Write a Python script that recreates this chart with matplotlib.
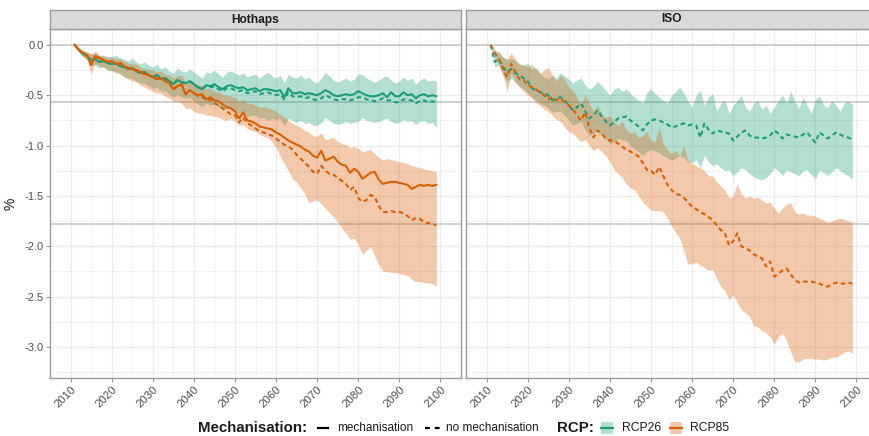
import numpy as np
import matplotlib
matplotlib.use("Agg")
import matplotlib.pyplot as plt
from matplotlib.lines import Line2D
from matplotlib.patches import Rectangle

plt.rcParams['font.family'] = ['Liberation Sans', 'DejaVu Sans']

years = np.arange(2011, 2100)
panels = ["Hothaps", "ISO"]
rcp_names = ["RCP26", "RCP85"]
rcp_colors = {"RCP26": "#1B9E77", "RCP85": "#D95F02"}
mech_labels = ["mechanisation", "no mechanisation"]
hlines = [0.0, -0.565, -1.78]

# Hothaps, RCP26
h26_mech = [0.00, -0.05, -0.09, -0.11, -0.15, -0.14, -0.17, -0.16, -0.18, -0.19,
            -0.18, -0.21, -0.22, -0.24, -0.23, -0.26, -0.28, -0.27, -0.30, -0.32,
            -0.30, -0.34, -0.33, -0.36, -0.39, -0.35, -0.37, -0.38, -0.36, -0.39,
            -0.42, -0.44, -0.40, -0.41, -0.39, -0.42, -0.44, -0.41, -0.40, -0.42,
            -0.43, -0.42, -0.45, -0.44, -0.43, -0.46, -0.44, -0.44, -0.45, -0.46,
            -0.45, -0.52, -0.43, -0.48, -0.48, -0.47, -0.49, -0.48, -0.49, -0.50,
            -0.48, -0.45, -0.47, -0.50, -0.51, -0.50, -0.49, -0.50, -0.49, -0.46,
            -0.48, -0.50, -0.51, -0.51, -0.50, -0.48, -0.52, -0.47, -0.51, -0.51,
            -0.47, -0.50, -0.49, -0.53, -0.50, -0.49, -0.51, -0.50, -0.51]
h26_nomech = [0.00, -0.05, -0.09, -0.11, -0.15, -0.14, -0.17, -0.16, -0.18, -0.19,
              -0.18, -0.21, -0.22, -0.24, -0.23, -0.26, -0.28, -0.27, -0.30, -0.32,
              -0.30, -0.34, -0.33, -0.36, -0.39, -0.35, -0.37, -0.38, -0.36, -0.39,
              -0.42, -0.44, -0.41, -0.42, -0.41, -0.44, -0.46, -0.43, -0.43, -0.45,
              -0.46, -0.45, -0.48, -0.47, -0.46, -0.49, -0.48, -0.47, -0.49, -0.50,
              -0.49, -0.54, -0.47, -0.51, -0.52, -0.51, -0.53, -0.52, -0.54, -0.55,
              -0.53, -0.50, -0.52, -0.54, -0.55, -0.54, -0.54, -0.55, -0.54, -0.52,
              -0.52, -0.54, -0.55, -0.56, -0.55, -0.53, -0.55, -0.55, -0.57, -0.57,
              -0.54, -0.55, -0.55, -0.58, -0.56, -0.55, -0.57, -0.56, -0.57]
h26_hi = [0.00, -0.02, -0.05, -0.07, -0.09, -0.08, -0.11, -0.10, -0.12, -0.12,
          -0.10, -0.13, -0.14, -0.16, -0.13, -0.17, -0.19, -0.17, -0.20, -0.22,
          -0.19, -0.24, -0.22, -0.26, -0.28, -0.23, -0.26, -0.27, -0.24, -0.27,
          -0.30, -0.33, -0.27, -0.28, -0.25, -0.29, -0.32, -0.27, -0.26, -0.28,
          -0.30, -0.28, -0.32, -0.30, -0.29, -0.33, -0.30, -0.27, -0.31, -0.33,
          -0.30, -0.38, -0.29, -0.32, -0.33, -0.30, -0.34, -0.32, -0.36, -0.38,
          -0.33, -0.27, -0.31, -0.35, -0.37, -0.35, -0.33, -0.36, -0.34, -0.29,
          -0.29, -0.33, -0.35, -0.37, -0.35, -0.32, -0.31, -0.35, -0.38, -0.36,
          -0.32, -0.35, -0.33, -0.39, -0.35, -0.33, -0.36, -0.35, -0.36]
h26_lo = [0.00, -0.07, -0.12, -0.15, -0.20, -0.20, -0.23, -0.22, -0.25, -0.26,
          -0.26, -0.29, -0.31, -0.33, -0.33, -0.36, -0.38, -0.38, -0.41, -0.43,
          -0.42, -0.46, -0.46, -0.49, -0.52, -0.49, -0.52, -0.53, -0.52, -0.56,
          -0.59, -0.61, -0.58, -0.60, -0.59, -0.62, -0.65, -0.63, -0.63, -0.66,
          -0.68, -0.67, -0.71, -0.70, -0.70, -0.73, -0.72, -0.75, -0.73, -0.74,
          -0.73, -0.80, -0.73, -0.75, -0.77, -0.75, -0.78, -0.77, -0.80, -0.80,
          -0.77, -0.72, -0.75, -0.78, -0.79, -0.78, -0.76, -0.78, -0.77, -0.76,
          -0.72, -0.75, -0.76, -0.77, -0.76, -0.74, -0.73, -0.76, -0.78, -0.77,
          -0.74, -0.76, -0.75, -0.79, -0.76, -0.75, -0.78, -0.77, -0.82]

# Hothaps, RCP85
h85_mech = [0.00, -0.05, -0.08, -0.10, -0.20, -0.11, -0.13, -0.15, -0.17, -0.16,
            -0.19, -0.18, -0.21, -0.23, -0.24, -0.25, -0.27, -0.29, -0.30, -0.32,
            -0.34, -0.33, -0.36, -0.38, -0.44, -0.41, -0.39, -0.49, -0.45, -0.48,
            -0.50, -0.49, -0.54, -0.52, -0.55, -0.56, -0.59, -0.62, -0.63, -0.66,
            -0.73, -0.67, -0.75, -0.76, -0.78, -0.81, -0.82, -0.83, -0.84, -0.87,
            -0.89, -0.92, -0.95, -0.97, -0.99, -1.01, -1.04, -1.06, -1.10, -1.12,
            -1.05, -1.15, -1.13, -1.11, -1.16, -1.19, -1.20, -1.27, -1.23, -1.26,
            -1.33, -1.30, -1.27, -1.26, -1.34, -1.38, -1.37, -1.36, -1.36, -1.37,
            -1.38, -1.39, -1.43, -1.41, -1.39, -1.40, -1.39, -1.40, -1.39]
h85_nomech = [0.00, -0.05, -0.08, -0.10, -0.20, -0.11, -0.13, -0.15, -0.17, -0.16,
              -0.19, -0.18, -0.21, -0.23, -0.24, -0.25, -0.27, -0.29, -0.30, -0.32,
              -0.34, -0.33, -0.36, -0.38, -0.44, -0.41, -0.39, -0.49, -0.45, -0.48,
              -0.51, -0.51, -0.55, -0.54, -0.58, -0.60, -0.63, -0.66, -0.69, -0.70,
              -0.77, -0.72, -0.78, -0.80, -0.83, -0.86, -0.87, -0.89, -0.90, -0.93,
              -0.96, -0.99, -1.01, -1.04, -1.09, -1.13, -1.17, -1.21, -1.26, -1.28,
              -1.20, -1.25, -1.28, -1.29, -1.32, -1.35, -1.38, -1.44, -1.41, -1.52,
              -1.56, -1.54, -1.49, -1.51, -1.60, -1.66, -1.66, -1.65, -1.66, -1.66,
              -1.67, -1.70, -1.74, -1.72, -1.73, -1.76, -1.77, -1.78, -1.79]
h85_hi = [0.00, -0.03, -0.06, -0.07, -0.09, -0.06, -0.10, -0.11, -0.12, -0.12,
          -0.14, -0.13, -0.16, -0.18, -0.19, -0.19, -0.22, -0.24, -0.24, -0.25,
          -0.27, -0.26, -0.29, -0.30, -0.33, -0.31, -0.30, -0.37, -0.36, -0.38,
          -0.40, -0.40, -0.44, -0.43, -0.46, -0.47, -0.49, -0.50, -0.51, -0.52,
          -0.56, -0.54, -0.58, -0.58, -0.60, -0.62, -0.61, -0.63, -0.64, -0.66,
          -0.69, -0.72, -0.75, -0.78, -0.80, -0.82, -0.85, -0.87, -0.90, -0.91,
          -0.87, -0.94, -0.93, -0.92, -0.96, -0.98, -0.99, -1.02, -1.01, -1.03,
          -1.06, -1.05, -1.04, -1.08, -1.12, -1.14, -1.13, -1.14, -1.15, -1.16,
          -1.17, -1.18, -1.20, -1.21, -1.22, -1.23, -1.24, -1.25, -1.26]
h85_lo = [0.00, -0.06, -0.11, -0.14, -0.29, -0.18, -0.21, -0.22, -0.25, -0.25,
          -0.28, -0.28, -0.32, -0.34, -0.36, -0.37, -0.40, -0.42, -0.44, -0.46,
          -0.48, -0.48, -0.51, -0.53, -0.56, -0.56, -0.58, -0.63, -0.63, -0.66,
          -0.68, -0.68, -0.70, -0.70, -0.71, -0.72, -0.74, -0.75, -0.73, -0.76,
          -0.80, -0.79, -0.83, -0.85, -0.86, -0.89, -0.91, -0.92, -0.96, -1.02,
          -1.10, -1.18, -1.25, -1.33, -1.36, -1.42, -1.48, -1.57, -1.55, -1.54,
          -1.58, -1.62, -1.67, -1.71, -1.76, -1.82, -1.87, -1.93, -1.92, -1.98,
          -2.08, -2.04, -2.00, -2.10, -2.18, -2.25, -2.25, -2.26, -2.26, -2.27,
          -2.28, -2.29, -2.33, -2.35, -2.35, -2.36, -2.36, -2.37, -2.40]

# ISO, RCP26 (no mechanisation only)
i26_nomech = [0.00, -0.17, -0.14, -0.22, -0.27, -0.24, -0.28, -0.30, -0.33, -0.36,
              -0.43, -0.45, -0.47, -0.48, -0.50, -0.55, -0.53, -0.52, -0.55, -0.60,
              -0.65, -0.62, -0.58, -0.66, -0.73, -0.70, -0.65, -0.71, -0.76, -0.80,
              -0.77, -0.73, -0.72, -0.71, -0.75, -0.78, -0.81, -0.85, -0.79, -0.75,
              -0.74, -0.75, -0.77, -0.79, -0.82, -0.81, -0.79, -0.78, -0.80, -0.79,
              -0.80, -0.92, -0.78, -0.84, -0.88, -0.85, -0.86, -0.87, -0.88, -0.95,
              -0.91, -0.87, -0.85, -0.90, -0.92, -0.92, -0.93, -0.92, -0.90, -0.85,
              -0.88, -0.93, -0.89, -0.90, -0.91, -0.92, -0.89, -0.87, -0.92, -0.97,
              -0.87, -0.90, -0.93, -0.90, -0.87, -0.89, -0.91, -0.92, -0.94]
i26_hi = [0.00, -0.08, -0.06, -0.12, -0.15, -0.13, -0.16, -0.19, -0.20, -0.18,
          -0.24, -0.22, -0.28, -0.32, -0.34, -0.30, -0.33, -0.28, -0.31, -0.34,
          -0.38, -0.35, -0.33, -0.40, -0.44, -0.41, -0.36, -0.40, -0.45, -0.50,
          -0.44, -0.42, -0.46, -0.44, -0.48, -0.52, -0.55, -0.58, -0.47, -0.44,
          -0.48, -0.52, -0.55, -0.58, -0.50, -0.46, -0.42, -0.48, -0.56, -0.62,
          -0.50, -0.45, -0.60, -0.52, -0.48, -0.66, -0.58, -0.55, -0.68, -0.60,
          -0.55, -0.50, -0.62, -0.66, -0.58, -0.55, -0.64, -0.60, -0.68, -0.62,
          -0.55, -0.50, -0.58, -0.46, -0.56, -0.63, -0.52, -0.60, -0.68, -0.54,
          -0.51, -0.60, -0.62, -0.55, -0.60, -0.66, -0.58, -0.56, -0.59]
i26_lo = [0.00, -0.22, -0.20, -0.30, -0.37, -0.33, -0.38, -0.41, -0.44, -0.47,
          -0.52, -0.55, -0.58, -0.60, -0.63, -0.67, -0.66, -0.66, -0.70, -0.75,
          -0.80, -0.78, -0.76, -0.85, -0.90, -0.88, -0.85, -0.90, -0.94, -0.98,
          -0.96, -0.93, -0.94, -0.95, -1.00, -1.03, -1.06, -1.10, -1.06, -1.04,
          -1.05, -1.07, -1.10, -1.12, -1.15, -1.12, -1.10, -1.12, -1.16, -1.17,
          -1.14, -1.22, -1.10, -1.16, -1.20, -1.18, -1.22, -1.25, -1.24, -1.30,
          -1.26, -1.22, -1.24, -1.28, -1.31, -1.33, -1.34, -1.32, -1.28, -1.22,
          -1.25, -1.30, -1.24, -1.26, -1.28, -1.30, -1.25, -1.24, -1.29, -1.33,
          -1.24, -1.27, -1.30, -1.26, -1.22, -1.25, -1.28, -1.30, -1.33]

# ISO, RCP85 (no mechanisation only)
i85_nomech = [0.00, -0.08, -0.14, -0.24, -0.32, -0.19, -0.27, -0.34, -0.35, -0.40,
              -0.42, -0.44, -0.47, -0.50, -0.54, -0.52, -0.55, -0.53, -0.57, -0.60,
              -0.64, -0.70, -0.75, -0.67, -0.82, -0.92, -0.85, -0.88, -0.93, -0.95,
              -0.95, -0.98, -1.01, -1.04, -1.06, -1.08, -1.11, -1.17, -1.24, -1.25,
              -1.29, -1.21, -1.30, -1.39, -1.44, -1.48, -1.49, -1.52, -1.56, -1.61,
              -1.63, -1.66, -1.68, -1.71, -1.74, -1.79, -1.84, -1.87, -1.99, -1.95,
              -1.87, -2.00, -2.02, -2.04, -2.08, -2.10, -2.12, -2.20, -2.15, -2.30,
              -2.27, -2.24, -2.22, -2.28, -2.33, -2.36, -2.35, -2.35, -2.35, -2.36,
              -2.37, -2.39, -2.40, -2.38, -2.36, -2.37, -2.37, -2.36, -2.37]
i85_hi = [0.00, -0.04, -0.09, -0.12, -0.14, -0.08, -0.14, -0.19, -0.20, -0.22,
          -0.19, -0.24, -0.28, -0.25, -0.22, -0.30, -0.36, -0.30, -0.34, -0.42,
          -0.45, -0.52, -0.60, -0.50, -0.58, -0.66, -0.60, -0.68, -0.72, -0.70,
          -0.76, -0.80, -0.76, -0.84, -0.88, -0.86, -0.92, -0.90, -0.86, -0.95,
          -0.96, -0.82, -0.98, -1.04, -1.08, -1.05, -1.10, -1.00, -1.14, -1.18,
          -1.20, -1.22, -1.25, -1.30, -1.30, -1.36, -1.40, -1.44, -1.52, -1.50,
          -1.38, -1.48, -1.52, -1.50, -1.52, -1.51, -1.54, -1.57, -1.56, -1.62,
          -1.67, -1.62, -1.58, -1.57, -1.66, -1.68, -1.67, -1.69, -1.69, -1.70,
          -1.72, -1.74, -1.76, -1.75, -1.73, -1.72, -1.73, -1.75, -1.76]
i85_lo = [0.00, -0.12, -0.20, -0.30, -0.46, -0.28, -0.36, -0.42, -0.46, -0.50,
          -0.53, -0.57, -0.60, -0.64, -0.66, -0.70, -0.74, -0.76, -0.82, -0.86,
          -0.88, -0.92, -0.96, -0.94, -1.00, -1.05, -1.02, -1.06, -1.10, -1.16,
          -1.24, -1.28, -1.32, -1.38, -1.42, -1.44, -1.50, -1.56, -1.60, -1.64,
          -1.65, -1.64, -1.66, -1.72, -1.80, -1.86, -1.92, -2.05, -2.18, -2.17,
          -2.16, -2.19, -2.21, -2.24, -2.23, -2.32, -2.40, -2.44, -2.53, -2.48,
          -2.56, -2.63, -2.66, -2.70, -2.79, -2.80, -2.84, -2.86, -2.90, -2.97,
          -2.90, -2.86, -2.94, -3.05, -3.14, -3.15, -3.12, -3.11, -3.11, -3.12,
          -3.12, -3.13, -3.12, -3.10, -3.10, -3.08, -3.05, -3.04, -3.06]

# panel -> rcp -> (ribbon lo, ribbon hi, {mechanisation: line})
data = {
    "Hothaps": {"RCP26": (h26_lo, h26_hi, {"mechanisation": h26_mech, "no mechanisation": h26_nomech}),
                "RCP85": (h85_lo, h85_hi, {"mechanisation": h85_mech, "no mechanisation": h85_nomech})},
    "ISO": {"RCP26": (i26_lo, i26_hi, {"no mechanisation": i26_nomech}),
            "RCP85": (i85_lo, i85_hi, {"no mechanisation": i85_nomech})},
}
line_styles = {"mechanisation": "-", "no mechanisation": (0, (2.2, 1.6))}

W, H = 870, 436
fig = plt.figure(figsize=(W / 100, H / 100), dpi=100)

# ggplot-like 5% expansion
xmin, xmax = years.min(), years.max()
xpad = 0.05 * (xmax - xmin)
allv = np.concatenate([np.array(v) for p in data.values() for r in p.values() for v in r[:2]])
ymin, ymax = allv.min(), allv.max()
ypad = 0.05 * (ymax - ymin)

grid_c = "#EBEBEB"
border_c = "#9A9A9A"
text_c = "#4D4D4D"

for k, panel in enumerate(panels):
    x0 = [50, 466][k]
    ax = fig.add_axes([x0 / W, 1 - 378 / H, 411 / W, 349 / H])
    ax.set_xlim(xmin - xpad, xmax + xpad)
    ax.set_ylim(ymin - ypad, ymax + ypad)
    ax.set_xticks(np.arange(2010, 2101, 10))
    ax.set_xticks(np.arange(2005, 2106, 10), minor=True)
    ax.set_yticks(np.arange(-3.0, 0.01, 0.5))
    ax.set_yticks(np.arange(-3.25, 0.2, 0.5), minor=True)
    ax.grid(which="major", color=grid_c, lw=0.9, zorder=0)
    ax.grid(which="minor", color=grid_c, lw=0.5, zorder=0)
    ax.set_axisbelow(True)
    for s in ax.spines.values():
        s.set_color(border_c)
        s.set_linewidth(1.0)
    ax.tick_params(which="major", length=3, color=border_c, labelcolor=text_c, pad=1.5)
    ax.tick_params(axis="x", labelsize=8.2)
    ax.tick_params(axis="y", labelsize=8.0)
    ax.tick_params(which="minor", length=0)
    ax.set_xticklabels([str(t) for t in range(2010, 2101, 10)], rotation=45, ha="right",
                       rotation_mode="anchor")
    ax.set_yticklabels([f"{v:.1f}" for v in np.arange(-3.0, 0.01, 0.5)])
    if k == 1:
        ax.tick_params(axis="y", labelleft=False, length=0)
    else:
        ax.set_ylabel("%", fontsize=10, color="#1A1A1A", labelpad=5)

    for h in hlines:
        ax.axhline(h, color="#C4C4C4", lw=1.1, zorder=1)

    for rcp in rcp_names:
        lo, hi, lines = data[panel][rcp]
        ax.fill_between(years, lo, hi, color=rcp_colors[rcp], alpha=0.33, lw=0, zorder=2)
    for rcp in rcp_names:
        lo, hi, lines = data[panel][rcp]
        for mech, vals in lines.items():
            ax.plot(years, vals, color=rcp_colors[rcp], lw=1.5, ls=line_styles[mech], zorder=3)

    # strip
    sax = fig.add_axes([x0 / W, 1 - 29 / H, 411 / W, 19 / H])
    sax.set_facecolor("#D9D9D9")
    sax.set_xticks([])
    sax.set_yticks([])
    for s in sax.spines.values():
        s.set_color(border_c)
        s.set_linewidth(1.0)
    sax.text(0.5, 0.5, panel, ha="center", va="center", fontsize=8.6, fontweight="bold",
             color="#1A1A1A", transform=sax.transAxes)

# bottom legend
def fx(px):
    return px / W

ly = 1 - 428 / H
fig.text(fx(198), ly, "Mechanisation:", fontsize=10.8, fontweight="bold", va="center", color="#1A1A1A")
fig.add_artist(Line2D([fx(318), fx(328)], [ly, ly], color="black", lw=1.6))
fig.text(fx(337), ly, mech_labels[0], fontsize=8.5, va="center", color="#1A1A1A")
fig.add_artist(Line2D([fx(425), fx(441)], [ly, ly], color="black", lw=1.6, ls=(0, (2.2, 2.2))))
fig.text(fx(446), ly, mech_labels[1], fontsize=8.5, va="center", color="#1A1A1A")
fig.text(fx(557), ly, "RCP:", fontsize=10.8, fontweight="bold", va="center", color="#1A1A1A")
for rcp, kx, tx in [("RCP26", 601, 622), ("RCP85", 670, 690)]:
    fig.add_artist(Rectangle((fx(kx), ly - 6 / H), 12 / W, 12 / H, transform=fig.transFigure,
                             facecolor=rcp_colors[rcp], alpha=0.33, lw=0))
    fig.add_artist(Line2D([fx(kx), fx(kx + 12)], [ly, ly], color=rcp_colors[rcp], lw=1.6))
    fig.text(fx(tx), ly, rcp, fontsize=8.7, va="center", color="#1A1A1A")

fig.savefig("out.png", dpi=100, facecolor="white")
